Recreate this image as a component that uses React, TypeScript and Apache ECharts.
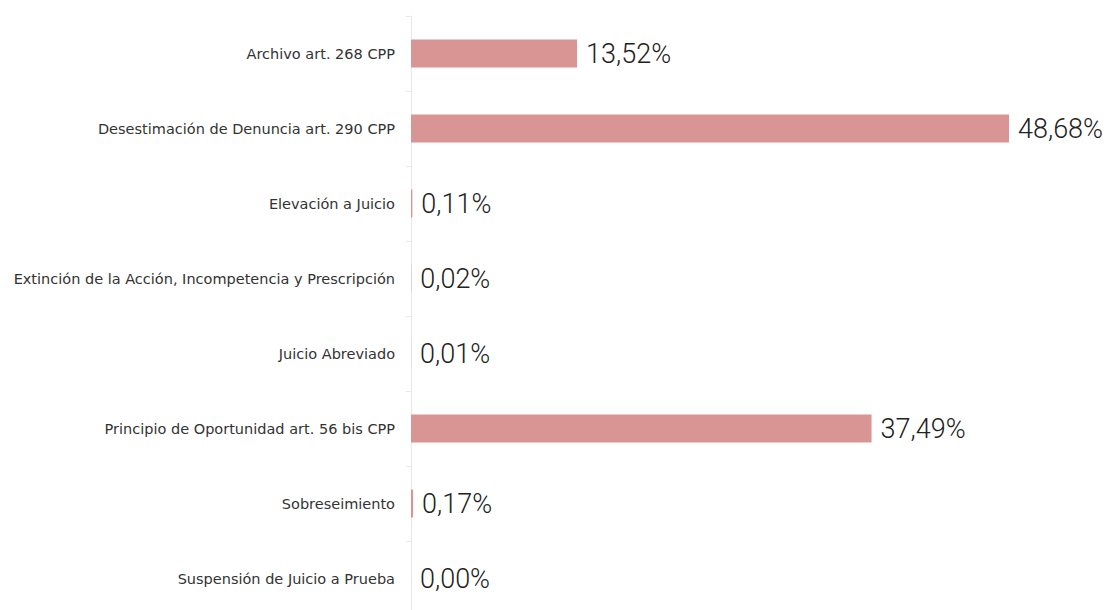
import React, { useEffect, useRef } from "react";
import * as echarts from "echarts";

const categories = [
  "Archivo art. 268 CPP",
  "Desestimación de Denuncia art. 290 CPP",
  "Elevación a Juicio",
  "Extinción de la Acción, Incompetencia y Prescripción",
  "Juicio Abreviado",
  "Principio de Oportunidad art. 56 bis CPP",
  "Sobreseimiento",
  "Suspensión de Juicio a Prueba",
];
const values = [13.52, 48.68, 0.11, 0.02, 0.01, 37.49, 0.17, 0.0];

export default function App() {
  const ref = useRef<HTMLDivElement>(null);
  useEffect(() => {
    if (!ref.current) return;
    const chart = echarts.init(ref.current, undefined, { renderer: "svg" });
    chart.setOption({
      animation: false,
      grid: { left: 411, right: 101, top: 16, bottom: 4, containLabel: false },
      xAxis: {
        type: "value",
        min: 0,
        max: 48.68,
        show: false,
      },
      yAxis: {
        type: "category",
        inverse: true,
        data: categories,
        axisLine: { show: true, lineStyle: { color: "#e8e8e8", width: 1 } },
        axisTick: { show: true, length: 5, lineStyle: { color: "#e8e8e8" } },
        axisLabel: {
          margin: 16,
          color: "#333",
          fontSize: 14.5,
          fontFamily: "'DejaVu Sans', sans-serif",
        },
        splitLine: { show: false },
      },
      series: [
        {
          type: "bar",
          data: values,
          barWidth: 28,
          itemStyle: { color: "#d99594" },
          label: {
            show: true,
            position: "right",
            distance: 9,
            color: "#222",
            fontSize: 27,
            fontWeight: 300,
            fontFamily: "Roboto, 'Noto Sans', sans-serif",
            formatter: (p: any) => p.value.toFixed(2).replace(".", ",") + "%",
          },
        },
      ],
    });
    return () => chart.dispose();
  }, []);
  return (
    <div
      ref={ref}
      style={{ position: "fixed", left: 0, top: 0, width: 1110, height: 620, background: "#fff" }}
    />
  );
}
